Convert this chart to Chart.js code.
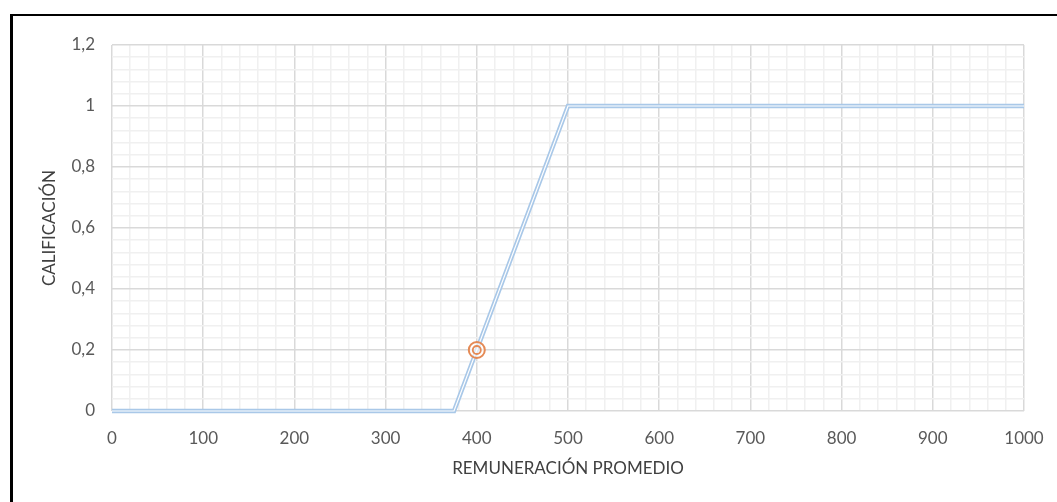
<!DOCTYPE html>
<html>
<head>
<meta charset="utf-8">
<script src="https://cdn.jsdelivr.net/npm/chart.js@4.4.0/dist/chart.umd.min.js"></script>
<style>
  html, body { margin: 0; padding: 0; background: #fff; }
  #marco { position: absolute; left: 10px; top: 14px; width: 1047px; height: 488px;
           border-left: 3px solid #000; border-top: 2px solid #000; box-sizing: border-box; }
  #wrap { position: absolute; left: 0; top: 0; width: 1057px; height: 502px; }
</style>
</head>
<body>
<div id="marco"></div>
<div id="wrap"><canvas id="grafico"></canvas></div>
<script>
// Datos
const remuneracion = [0, 375, 500, 1000];
const calificacion = [0, 0, 1, 1];
const puntoX = [400];
const puntoY = [0.2];
const ticksX = [0, 100, 200, 300, 400, 500, 600, 700, 800, 900, 1000];
const ticksY = [0, 0.2, 0.4, 0.6, 0.8, 1, 1.2];

const curva = remuneracion.map((x, i) => ({ x: x, y: calificacion[i] }));
const punto = puntoX.map((x, i) => ({ x: x, y: puntoY[i] }));

const familia = 'Lato, "Open Sans", sans-serif';
const fuente = { family: familia, size: 17 };

// líneas mayores cada 100 / 0,2 y menores cada 20 / 0,04
function colorX(ctx) {
    const v = Math.round(ctx.tick.value);
    return ticksX.includes(v) ? '#d9d9d9' : '#f0f0f0';
}
function colorY(ctx) {
    const v = Math.round(ctx.tick.value * 100);
    return v % 20 === 0 ? '#d9d9d9' : '#f0f0f0';
}

const ctx = document.getElementById('grafico').getContext('2d');
const grafico = new Chart(ctx, {
    type: 'scatter',
    data: {
        datasets: [
            {
                data: punto,
                showLine: false,
                pointRadius: 4,
                pointBorderWidth: 1.8,
                pointBorderColor: '#e58a55',
                pointBackgroundColor: 'rgba(0,0,0,0)',
                clip: false,
                order: 0
            },
            {
                data: punto,
                showLine: false,
                pointRadius: 8,
                pointBorderWidth: 2,
                pointBorderColor: '#e58a55',
                pointBackgroundColor: 'rgba(255,255,255,0.6)',
                clip: false,
                order: 1
            },
            {
                data: curva,
                showLine: true,
                borderColor: '#ffffff',
                borderWidth: 1.2,
                pointRadius: 0,
                clip: false,
                order: 2
            },
            {
                data: curva,
                showLine: true,
                borderColor: '#a9c8e8',
                borderWidth: 4.5,
                pointRadius: 0,
                clip: false,
                order: 3
            }
        ]
    },
    options: {
        responsive: true,
        maintainAspectRatio: false,
        animation: false,
        layout: { padding: { top: 45, right: 33, left: 0, bottom: 0 } },
        plugins: {
            legend: { display: false },
            tooltip: { enabled: false }
        },
        scales: {
            x: {
                type: 'linear',
                min: 0,
                max: 1000,
                afterFit: function(s) {
                    s.height = 91;
                    s.paddingLeft = 0;
                    s.paddingRight = 0;
                },
                afterBuildTicks: function(s) {
                    const t = [];
                    for (let v = 0; v <= 1000; v += 20) t.push({ value: v });
                    s.ticks = t;
                },
                ticks: {
                    autoSkip: false,
                    maxRotation: 0,
                    padding: 17,
                    color: '#595959',
                    font: fuente,
                    callback: function(v) {
                        return ticksX.includes(Math.round(v)) ? String(Math.round(v)) : '';
                    }
                },
                grid: { color: colorX, lineWidth: 1.5, drawTicks: false },
                border: { display: false },
                title: {
                    display: true,
                    text: 'REMUNERACIÓN PROMEDIO',
                    color: '#404040',
                    font: { family: familia, size: 17 },
                    padding: { top: 0, bottom: 23 }
                }
            },
            y: {
                type: 'linear',
                min: 0,
                max: 1.2,
                afterFit: function(s) { s.width = 112; },
                afterBuildTicks: function(s) {
                    const t = [];
                    for (let i = 0; i <= 30; i++) t.push({ value: i * 0.04 });
                    s.ticks = t;
                },
                ticks: {
                    autoSkip: false,
                    padding: 17,
                    color: '#595959',
                    font: fuente,
                    callback: function(v) {
                        const c = Math.round(v * 100);
                        if (c % 20 !== 0) return '';
                        return String(c / 100).replace('.', ',');
                    }
                },
                grid: { color: colorY, lineWidth: 1.5, drawTicks: false },
                border: { display: false },
                title: {
                    display: true,
                    text: 'CALIFICACIÓN',
                    color: '#404040',
                    font: { family: familia, size: 17 },
                    padding: { top: 39, bottom: 0 }
                }
            }
        }
    }
});
</script>
</body>
</html>
